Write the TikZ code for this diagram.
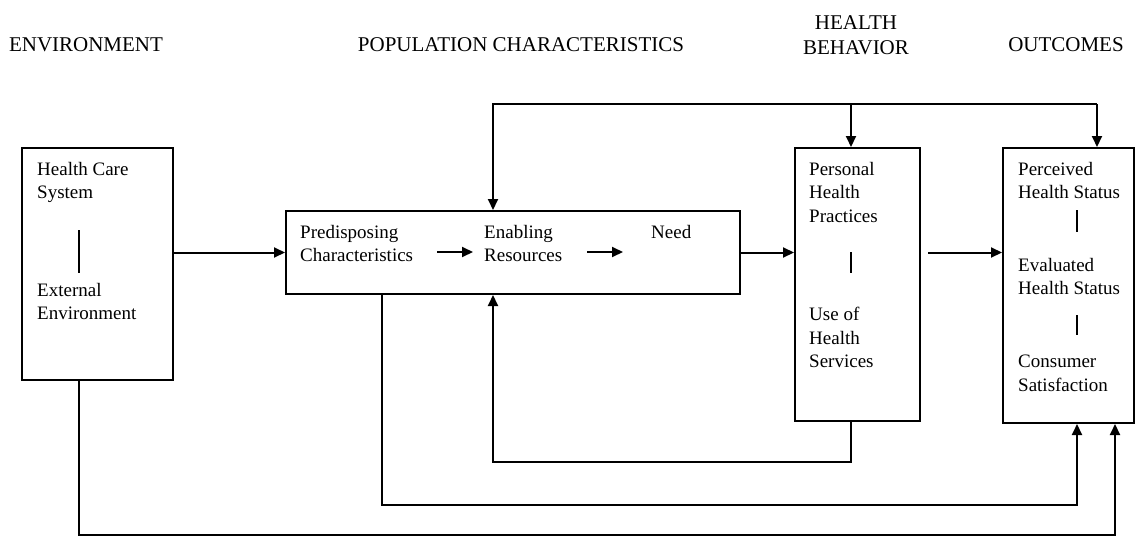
\documentclass[tikz,border=0pt]{standalone}
\usepackage{fontspec}
\setmainfont{Liberation Serif}
\usetikzlibrary{arrows.meta}

\begin{document}
\begin{tikzpicture}[x=1pt, y=-1pt,
    box/.style={draw, line width=2pt, anchor=north west, inner sep=0pt},
    txt/.style={anchor=north west, inner sep=0pt, align=left, font=\fontsize{19}{23.5}\selectfont},
    head/.style={inner sep=0pt, align=center, font=\fontsize{21}{25}\selectfont},
    arr/.style={line width=2pt, -{Triangle[length=11pt, width=10pt]}},
    bar/.style={line width=2pt}]
    \useasboundingbox (0,0) rectangle (1138,546);
    \node[head] (hEnv) at (86,45) {ENVIRONMENT};
    \node[head] (hPop) at (521,45) {POPULATION CHARACTERISTICS};
    \node[head] (hBeh) at (856,35) {HEALTH\\BEHAVIOR};
    \node[head] (hOut) at (1066,45) {OUTCOMES};
    \node[box, minimum width=151pt, minimum height=232pt] (env) at (21,147) {};
    \node[box, minimum width=454pt, minimum height=83pt] (pop) at (285,210) {};
    \node[box, minimum width=125pt, minimum height=273pt] (beh) at (794,147) {};
    \node[box, minimum width=131pt, minimum height=275pt] (out) at (1002,147) {};
    \node[txt] (hcs) at (37,162) {Health Care\\System};
    \node[txt] (ext) at (37,283) {External\\Environment};
    \node[txt] (pre) at (300,225) {Predisposing\\Characteristics};
    \node[txt] (ena) at (484,225) {Enabling\\Resources};
    \node[txt] (need) at (651,225) {Need};
    \node[txt] (php) at (809,162) {Personal\\Health\\Practices};
    \node[txt] (uhs) at (809,307) {Use of\\Health\\Services};
    \node[txt] (phs) at (1018,162) {Perceived\\Health Status};
    \node[txt] (ehs) at (1018,258) {Evaluated\\Health Status};
    \node[txt] (cs) at (1018,355) {Consumer\\Satisfaction};
    \draw[bar] (79,230) -- (79,273);
    \draw[bar] (851,252) -- (851,273);
    \draw[bar] (1077,210) -- (1077,232);
    \draw[bar] (1077,315) -- (1077,335);
    \draw[arr] (437,252) -- (473,252);
    \draw[arr] (587,252) -- (623,252);
    \draw[arr] (env.east |- pop.west) -- (pop.west);
    \draw[arr] (pop.east) -- (pop.east -| beh.west);
    \draw[arr] ([xshift=7pt]beh.east |- pop.east) -- (out.west |- pop.east);
    \coordinate (topL) at (493,104);
    \coordinate (topR) at (1097,104);
    \coordinate (topB) at (851,104);
    \draw[arr] (topR) -- (topL) -- (topL |- pop.north);
    \draw[arr] (topR) -- (topR |- out.north);
    \draw[arr] (topB) -- (topB |- beh.north);
    \coordinate (loopB) at (493,462);
    \draw[arr] (topB |- beh.south) |- (loopB) -- (loopB |- pop.south);
    \coordinate (loopC) at (382,505);
    \coordinate (loopCr) at (1077,505);
    \draw[arr] (loopC |- pop.south) -- (loopC) -- (loopCr) -- (loopCr |- out.south);
    \coordinate (loopD) at (79,535);
    \coordinate (loopDr) at (1115,535);
    \draw[arr] (loopD |- env.south) -- (loopD) -- (loopDr) -- (loopDr |- out.south);
\end{tikzpicture}
\end{document}
